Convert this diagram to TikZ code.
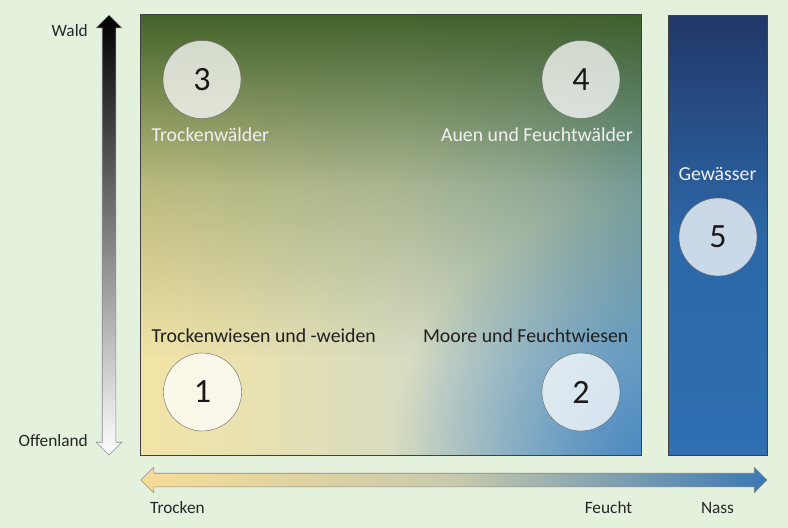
\documentclass[tikz,border=0pt]{standalone}
\usepackage{fontspec}
\setmainfont{Carlito}
\usetikzlibrary{shapes.arrows,fadings}

\definecolor{hintergrund}{RGB}{228,241,220}
\definecolor{waldgruen}{RGB}{58,92,36}
\definecolor{trockengelb}{RGB}{243,228,165}
\definecolor{mitteblass}{RGB}{216,220,194}
\definecolor{uebergang}{RGB}{184,204,200}
\definecolor{randblau}{RGB}{142,182,200}
\definecolor{feuchtblau}{RGB}{70,134,192}
\definecolor{tiefblau}{RGB}{33,55,104}
\definecolor{nassblau}{RGB}{46,112,178}
\definecolor{pfeilgelb}{RGB}{247,220,150}
\definecolor{pfeilmitte}{RGB}{200,202,172}
\definecolor{pfeilblau}{RGB}{58,120,181}

\pgfdeclarehorizontalshading{trockenfeucht}{100bp}{color(0bp)=(trockengelb);
    color(25bp)=(trockengelb); color(52bp)=(mitteblass); color(65bp)=(uebergang);
    color(75bp)=(randblau); color(100bp)=(randblau)}

\tikzfading[name=waldfade, top color=transparent!5,
    bottom color=transparent!100, middle color=transparent!70]
\tikzfading[name=eckfade, inner color=transparent!10,
    outer color=transparent!100]

\tikzset{
    nummer/.style={circle, draw=black!60, fill=white, fill opacity=0.75,
        text opacity=1, minimum size=78, inner sep=0pt, text=black!90,
        font=\fontsize{34}{40}\selectfont},
    hell/.style={text=white!94!black, font=\fontsize{19.8}{23}\selectfont},
    dunkel/.style={text=black!88, font=\fontsize{19.8}{23}\selectfont},
    achse/.style={text=black!85, font=\fontsize{17.3}{20}\selectfont},
    achspfeil/.style={double arrow, inner sep=6.5pt,
        double arrow head extend=6, double arrow tip angle=90,
        draw=black!45, line width=0.6pt}
}

\begin{document}
\begin{tikzpicture}[x=1pt, y=-1pt]
    \fill[hintergrund] (0,0) rectangle (788,528);
    \useasboundingbox (0,0) rectangle (788,528);

    % Feld: trocken -> feucht, offen -> wald
    \node[minimum width=500, minimum height=440, inner sep=0pt,
        shading=trockenfeucht] (feld) at (391,235) {};
    \begin{scope}
        \clip (feld.north west) rectangle (feld.south east);
        \fill[feuchtblau, path fading=eckfade] (feld.south east) circle[radius=250];
        \fill[waldgruen, path fading=waldfade]
            (feld.north west) rectangle ([yshift=97pt]feld.south east);
    \end{scope}
    \draw[black!75, line width=0.8pt]
        (feld.north west) rectangle (feld.south east);

    \node[minimum width=99, minimum height=440, inner sep=0pt,
        top color=tiefblau, bottom color=nassblau, middle color=nassblau!85!tiefblau,
        draw=black!75, line width=0.8pt] (gewaesser) at (717.5,235) {};

    % Nummern
    \node[nummer] (n3) at (202,79.5) {3};
    \node[nummer] (n4) at (581,79.5) {4};
    \node[nummer] (n1) at (202.5,392) {1};
    \node[nummer] (n2) at (581,392) {2};
    \node[nummer] (n5) at (718,237) {5};

    % Beschriftungen im Feld
    \node[hell, anchor=base west, inner sep=0pt] (l3) at (151.5,141) {Trockenwälder};
    \node[hell, anchor=base east, inner sep=0pt] (l4) at (633,141) {Auen und Feuchtwälder};
    \node[dunkel, anchor=base west, inner sep=0pt] (l1) at (151.5,342) {Trockenwiesen und -weiden};
    \node[dunkel, anchor=base east, inner sep=0pt] (l2) at (628.5,342) {Moore und Feuchtwiesen};
    \node[hell, anchor=base, inner sep=0pt] (l5) at (717.5,180) {Gewässer};

    % Achsen
    \node[achspfeil, shape border rotate=90, minimum height=440,
        top color=black, bottom color=white] (offenwald) at (109,235) {};
    \node[achspfeil, minimum height=626,
        left color=pfeilgelb, right color=pfeilblau, middle color=pfeilmitte]
        (trockennass) at (454,480) {};

    \node[achse, anchor=base east, inner sep=0pt] (wald) at (88,36) {Wald};
    \node[achse, anchor=base east, inner sep=0pt] (offen) at (88,446) {Offenland};
    \node[achse, anchor=base west, inner sep=0pt] (trocken) at (150,513) {Trocken};
    \node[achse, anchor=base, inner sep=0pt] (feucht) at (608.5,513) {Feucht};
    \node[achse, anchor=base, inner sep=0pt] (nass) at (717.5,513) {Nass};
\end{tikzpicture}
\end{document}
